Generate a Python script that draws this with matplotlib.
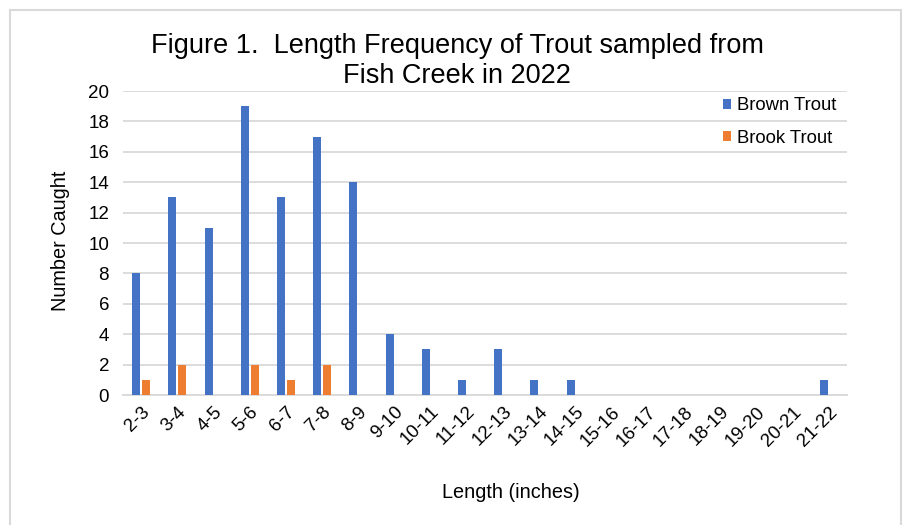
import matplotlib
matplotlib.use("Agg")
import matplotlib.pyplot as plt
import matplotlib.transforms as mtransforms
import numpy as np
from matplotlib.patches import Rectangle

plt.rcParams['font.family'] = ['Liberation Sans', 'DejaVu Sans']

categories = ["2-3", "3-4", "4-5", "5-6", "6-7", "7-8", "8-9", "9-10", "10-11", "11-12",
              "12-13", "13-14", "14-15", "15-16", "16-17", "17-18", "18-19", "19-20", "20-21", "21-22"]
brown_trout = [8, 13, 11, 19, 13, 17, 14, 4, 3, 1, 3, 1, 1, 0, 0, 0, 0, 0, 0, 1]
brook_trout = [1, 2, 0, 2, 1, 2, 0, 0, 0, 0, 0, 0, 0, 0, 0, 0, 0, 0, 0, 0]

W, H = 904, 525
fig = plt.figure(figsize=(W/100, H/100), dpi=100)
ax = fig.add_axes([123/W, 1 - 395/H, (847 - 123)/W, (395 - 91)/H])

# frame border
fig.patches.append(Rectangle((10/W, -0.05), (901 - 10)/W, 1 - 10/H + 0.05,
                             transform=fig.transFigure, fill=False,
                             edgecolor='#d9d9d9', linewidth=1.5, zorder=0))

x = np.arange(len(categories))
w = 0.22
gap = 0.05
ax.bar(x - (w + gap)/2, brown_trout, width=w, color='#4472C4', label='Brown Trout', zorder=3)
ax.bar(x + (w + gap)/2, brook_trout, width=w, color='#ED7D31', label='Brook Trout', zorder=3)

ax.set_xlim(-0.5, len(categories) - 0.5)
ax.set_ylim(0, 20)
ax.set_yticks(range(0, 21, 2))
ax.set_xticks(x)
ax.set_xticklabels(categories, rotation=45, ha='right', rotation_mode='anchor', fontsize=13.5)
shift = mtransforms.ScaledTranslation(-4/100, 0, fig.dpi_scale_trans)
for lbl in ax.get_xticklabels():
    lbl.set_transform(lbl.get_transform() + shift)
ax.tick_params(axis='y', labelsize=13.5, length=0, pad=10)
ax.tick_params(axis='x', length=0, pad=6)
ax.grid(axis='y', color='#d9d9d9', linewidth=1.3, zorder=0)
for s in ['top', 'right', 'left']:
    ax.spines[s].set_visible(False)
ax.spines['bottom'].set_color('#d9d9d9')
ax.spines['bottom'].set_linewidth(1.3)

ax.set_ylabel('Number Caught', fontsize=14.3)
ax.yaxis.set_label_coords((70 - 123)/(847 - 123), (395 - 241)/(395 - 91))
ax.set_xlabel('Length (inches)', fontsize=14.3)
ax.xaxis.set_label_coords((511 - 123)/(847 - 123), -(483 - 395)/(395 - 91))

leg = ax.legend(loc='center left', bbox_to_anchor=(723/W, 1 - 122/H), bbox_transform=fig.transFigure,
                frameon=False, fontsize=13.3, borderpad=0, borderaxespad=0,
                handlelength=0.45, handleheight=0.45, handletextpad=0.3, labelspacing=0.85)

fig.text(457/W, 1 - 61/H, 'Figure 1.  Length Frequency of Trout sampled from\nFish Creek in 2022',
         ha='center', va='center', fontsize=19.5, linespacing=1.2)

fig.savefig('out.png', dpi=100)
